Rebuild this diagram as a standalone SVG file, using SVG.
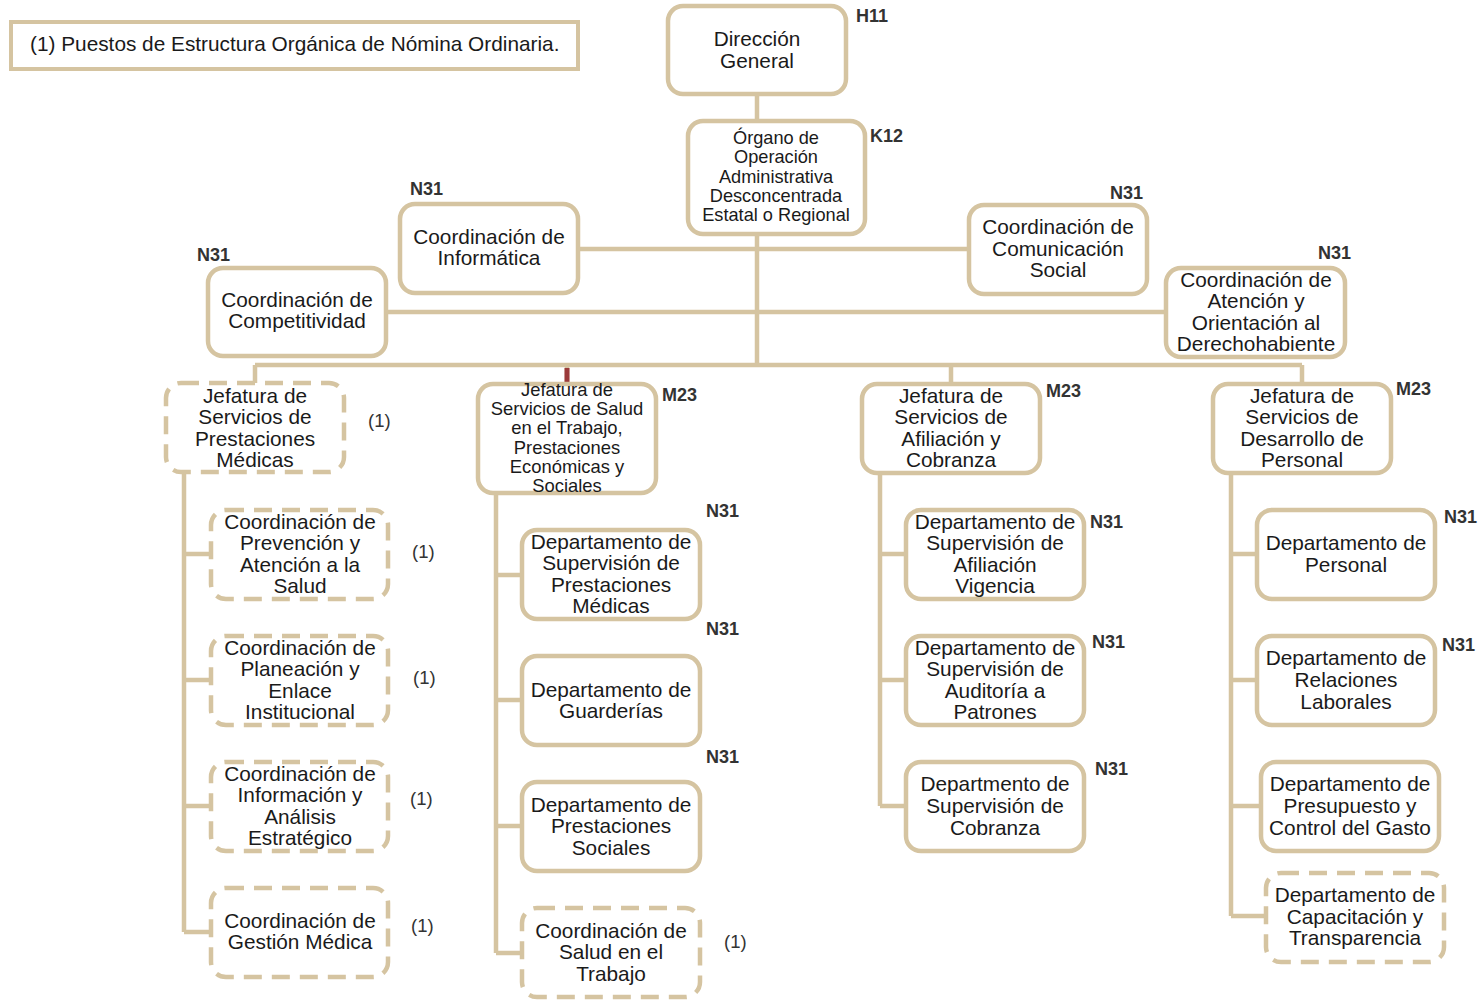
<svg xmlns="http://www.w3.org/2000/svg" width="1480" height="1000" viewBox="0 0 1480 1000">
<style>
.b{fill:#fff;stroke:#d5c4a1;stroke-width:4.5}
.d{fill:#fff;stroke:#d5c4a1;stroke-width:4.5;stroke-dasharray:18 10}
.c{fill:none;stroke:#d5c4a1;stroke-width:4.5}
text{font-family:"Liberation Sans",Arial,sans-serif;fill:#1a1a1a}
.t{font-size:20.8px;text-anchor:middle}
.s{font-size:18.2px;text-anchor:middle}
.u{font-size:18.4px;text-anchor:middle}
.l{font-size:18px;font-weight:bold;fill:#333}
.n{font-size:18.5px;fill:#333}
</style>
<rect width="1480" height="1000" fill="#fff"/>
<g id="connectors">
<path class="c" d="M757 94V121M757 234V365M578 249H969M387 312H1166M255 365H1302M255 365V383M567 365V384M951 365V384M1302 365V383"/>
<path d="M567 368V382" stroke="#9b3a3a" stroke-width="5"/>
<path class="c" d="M184 472V932M184 554H211M184 680H211M184 806H211M184 932H211"/>
<path class="c" d="M496 493V953M496 575H522M496 700H522M496 826H522M496 953H522"/>
<path class="c" d="M880 473V806M880 554H906M880 680H906M880 806H906"/>
<path class="c" d="M1231 473V916M1231 554H1257M1231 680H1257M1231 806H1261M1231 916H1266"/>
</g>
<g id="legend">
<rect x="11" y="22" width="567" height="47" fill="#fff" stroke="#d5c4a1" stroke-width="4"/>
<text x="30" y="51" font-size="20.8">(1) Puestos de Estructura Orgánica de Nómina Ordinaria.</text>
</g>
<g id="n-direccion"><rect class="b" x="668" y="6" width="178" height="88" rx="15"/><text class="t" x="757" y="46">Dirección</text><text class="t" x="757" y="68">General</text><text class="l" x="856" y="22">H11</text></g>
<g id="n-organo"><rect class="b" x="688" y="121" width="177" height="113" rx="15"/><text class="s" x="776" y="144">Órgano de</text><text class="s" x="776" y="163">Operación</text><text class="s" x="776" y="183">Administrativa</text><text class="s" x="776" y="202">Desconcentrada</text><text class="s" x="776" y="221">Estatal o Regional</text><text class="l" x="870" y="142">K12</text></g>
<g id="n-informatica"><rect class="b" x="400" y="204" width="178" height="89" rx="15"/><text class="t" x="489" y="244">Coordinación de</text><text class="t" x="489" y="265">Informática</text><text class="l" x="410" y="195">N31</text></g>
<g id="n-comunicacion"><rect class="b" x="969" y="205" width="178" height="89" rx="15"/><text class="t" x="1058" y="234">Coordinación de</text><text class="t" x="1058" y="256">Comunicación</text><text class="t" x="1058" y="277">Social</text><text class="l" x="1110" y="199">N31</text></g>
<g id="n-competitividad"><rect class="b" x="208" y="268" width="178" height="88" rx="15"/><text class="t" x="297" y="307">Coordinación de</text><text class="t" x="297" y="328">Competitividad</text><text class="l" x="197" y="261">N31</text></g>
<g id="n-atencion"><rect class="b" x="1166" y="268" width="179" height="89" rx="15"/><text class="t" x="1256" y="287">Coordinación de</text><text class="t" x="1256" y="308">Atención y</text><text class="t" x="1256" y="330">Orientación al</text><text class="t" x="1256" y="351">Derechohabiente</text><text class="l" x="1318" y="259">N31</text></g>
<g id="n-jef-prestmed"><rect class="d" x="166" y="383" width="178" height="89" rx="15"/><text class="t" x="255" y="403">Jefatura de</text><text class="t" x="255" y="424">Servicios de</text><text class="t" x="255" y="446">Prestaciones</text><text class="t" x="255" y="467">Médicas</text><text class="n" x="368" y="427">(1)</text></g>
<g id="n-jef-salud"><rect class="b" x="478" y="384" width="178" height="109" rx="15"/><text class="u" x="567" y="396">Jefatura de</text><text class="u" x="567" y="415">Servicios de Salud</text><text class="u" x="567" y="434">en el Trabajo,</text><text class="u" x="567" y="454">Prestaciones</text><text class="u" x="567" y="473">Económicas y</text><text class="u" x="567" y="492">Sociales</text><text class="l" x="662" y="401">M23</text></g>
<g id="n-jef-afiliacion"><rect class="b" x="862" y="384" width="178" height="89" rx="15"/><text class="t" x="951" y="403">Jefatura de</text><text class="t" x="951" y="424">Servicios de</text><text class="t" x="951" y="446">Afiliación y</text><text class="t" x="951" y="467">Cobranza</text><text class="l" x="1046" y="397">M23</text></g>
<g id="n-jef-desarrollo"><rect class="b" x="1213" y="384" width="178" height="89" rx="15"/><text class="t" x="1302" y="403">Jefatura de</text><text class="t" x="1302" y="424">Servicios de</text><text class="t" x="1302" y="446">Desarrollo de</text><text class="t" x="1302" y="467">Personal</text><text class="l" x="1396" y="395">M23</text></g>
<g id="n-prevencion"><rect class="d" x="211" y="510" width="177" height="89" rx="15"/><text class="t" x="300" y="529">Coordinación de</text><text class="t" x="300" y="550">Prevención y</text><text class="t" x="300" y="572">Atención a la</text><text class="t" x="300" y="593">Salud</text><text class="n" x="412" y="558">(1)</text></g>
<g id="n-planeacion"><rect class="d" x="211" y="636" width="177" height="89" rx="15"/><text class="t" x="300" y="655">Coordinación de</text><text class="t" x="300" y="676">Planeación y</text><text class="t" x="300" y="698">Enlace</text><text class="t" x="300" y="719">Institucional</text><text class="n" x="413" y="684">(1)</text></g>
<g id="n-informacion"><rect class="d" x="211" y="762" width="177" height="89" rx="15"/><text class="t" x="300" y="781">Coordinación de</text><text class="t" x="300" y="802">Información y</text><text class="t" x="300" y="824">Análisis</text><text class="t" x="300" y="845">Estratégico</text><text class="n" x="410" y="805">(1)</text></g>
<g id="n-gestion"><rect class="d" x="211" y="888" width="177" height="89" rx="15"/><text class="t" x="300" y="928">Coordinación de</text><text class="t" x="300" y="949">Gestión Médica</text><text class="n" x="411" y="932">(1)</text></g>
<g id="n-sup-prestmed"><rect class="b" x="522" y="530" width="178" height="89" rx="15"/><text class="t" x="611" y="549">Departamento de</text><text class="t" x="611" y="570">Supervisión de</text><text class="t" x="611" y="592">Prestaciones</text><text class="t" x="611" y="613">Médicas</text><text class="l" x="706" y="517">N31</text></g>
<g id="n-guarderias"><rect class="b" x="522" y="656" width="178" height="89" rx="15"/><text class="t" x="611" y="697">Departamento de</text><text class="t" x="611" y="718">Guarderías</text><text class="l" x="706" y="635">N31</text></g>
<g id="n-prestsoc"><rect class="b" x="522" y="782" width="178" height="89" rx="15"/><text class="t" x="611" y="812">Departamento de</text><text class="t" x="611" y="833">Prestaciones</text><text class="t" x="611" y="855">Sociales</text><text class="l" x="706" y="763">N31</text></g>
<g id="n-saludtrabajo"><rect class="d" x="522" y="908" width="178" height="89" rx="15"/><text class="t" x="611" y="938">Coordinación de</text><text class="t" x="611" y="959">Salud en el</text><text class="t" x="611" y="981">Trabajo</text><text class="n" x="724" y="948">(1)</text></g>
<g id="n-afiliacion"><rect class="b" x="906" y="510" width="178" height="89" rx="15"/><text class="t" x="995" y="529">Departamento de</text><text class="t" x="995" y="550">Supervisión de</text><text class="t" x="995" y="572">Afiliación</text><text class="t" x="995" y="593">Vigencia</text><text class="l" x="1090" y="528">N31</text></g>
<g id="n-auditoria"><rect class="b" x="906" y="636" width="178" height="89" rx="15"/><text class="t" x="995" y="655">Departamento de</text><text class="t" x="995" y="676">Supervisión de</text><text class="t" x="995" y="698">Auditoría a</text><text class="t" x="995" y="719">Patrones</text><text class="l" x="1092" y="648">N31</text></g>
<g id="n-cobranza"><rect class="b" x="906" y="762" width="178" height="89" rx="15"/><text class="t" x="995" y="791">Departmento de</text><text class="t" x="995" y="813">Supervisión de</text><text class="t" x="995" y="835">Cobranza</text><text class="l" x="1095" y="775">N31</text></g>
<g id="n-personal"><rect class="b" x="1257" y="510" width="178" height="89" rx="15"/><text class="t" x="1346" y="550">Departamento de</text><text class="t" x="1346" y="572">Personal</text><text class="l" x="1444" y="523">N31</text></g>
<g id="n-relaciones"><rect class="b" x="1257" y="636" width="178" height="89" rx="15"/><text class="t" x="1346" y="665">Departamento de</text><text class="t" x="1346" y="687">Relaciones</text><text class="t" x="1346" y="709">Laborales</text><text class="l" x="1442" y="651">N31</text></g>
<g id="n-presupuesto"><rect class="b" x="1261" y="762" width="178" height="89" rx="15"/><text class="t" x="1350" y="791">Departamento de</text><text class="t" x="1350" y="813">Presupuesto y</text><text class="t" x="1350" y="835">Control del Gasto</text></g>
<g id="n-capacitacion"><rect class="d" x="1266" y="873" width="178" height="89" rx="15"/><text class="t" x="1355" y="902">Departamento de</text><text class="t" x="1355" y="924">Capacitación y</text><text class="t" x="1355" y="945">Transparencia</text></g>
</svg>
